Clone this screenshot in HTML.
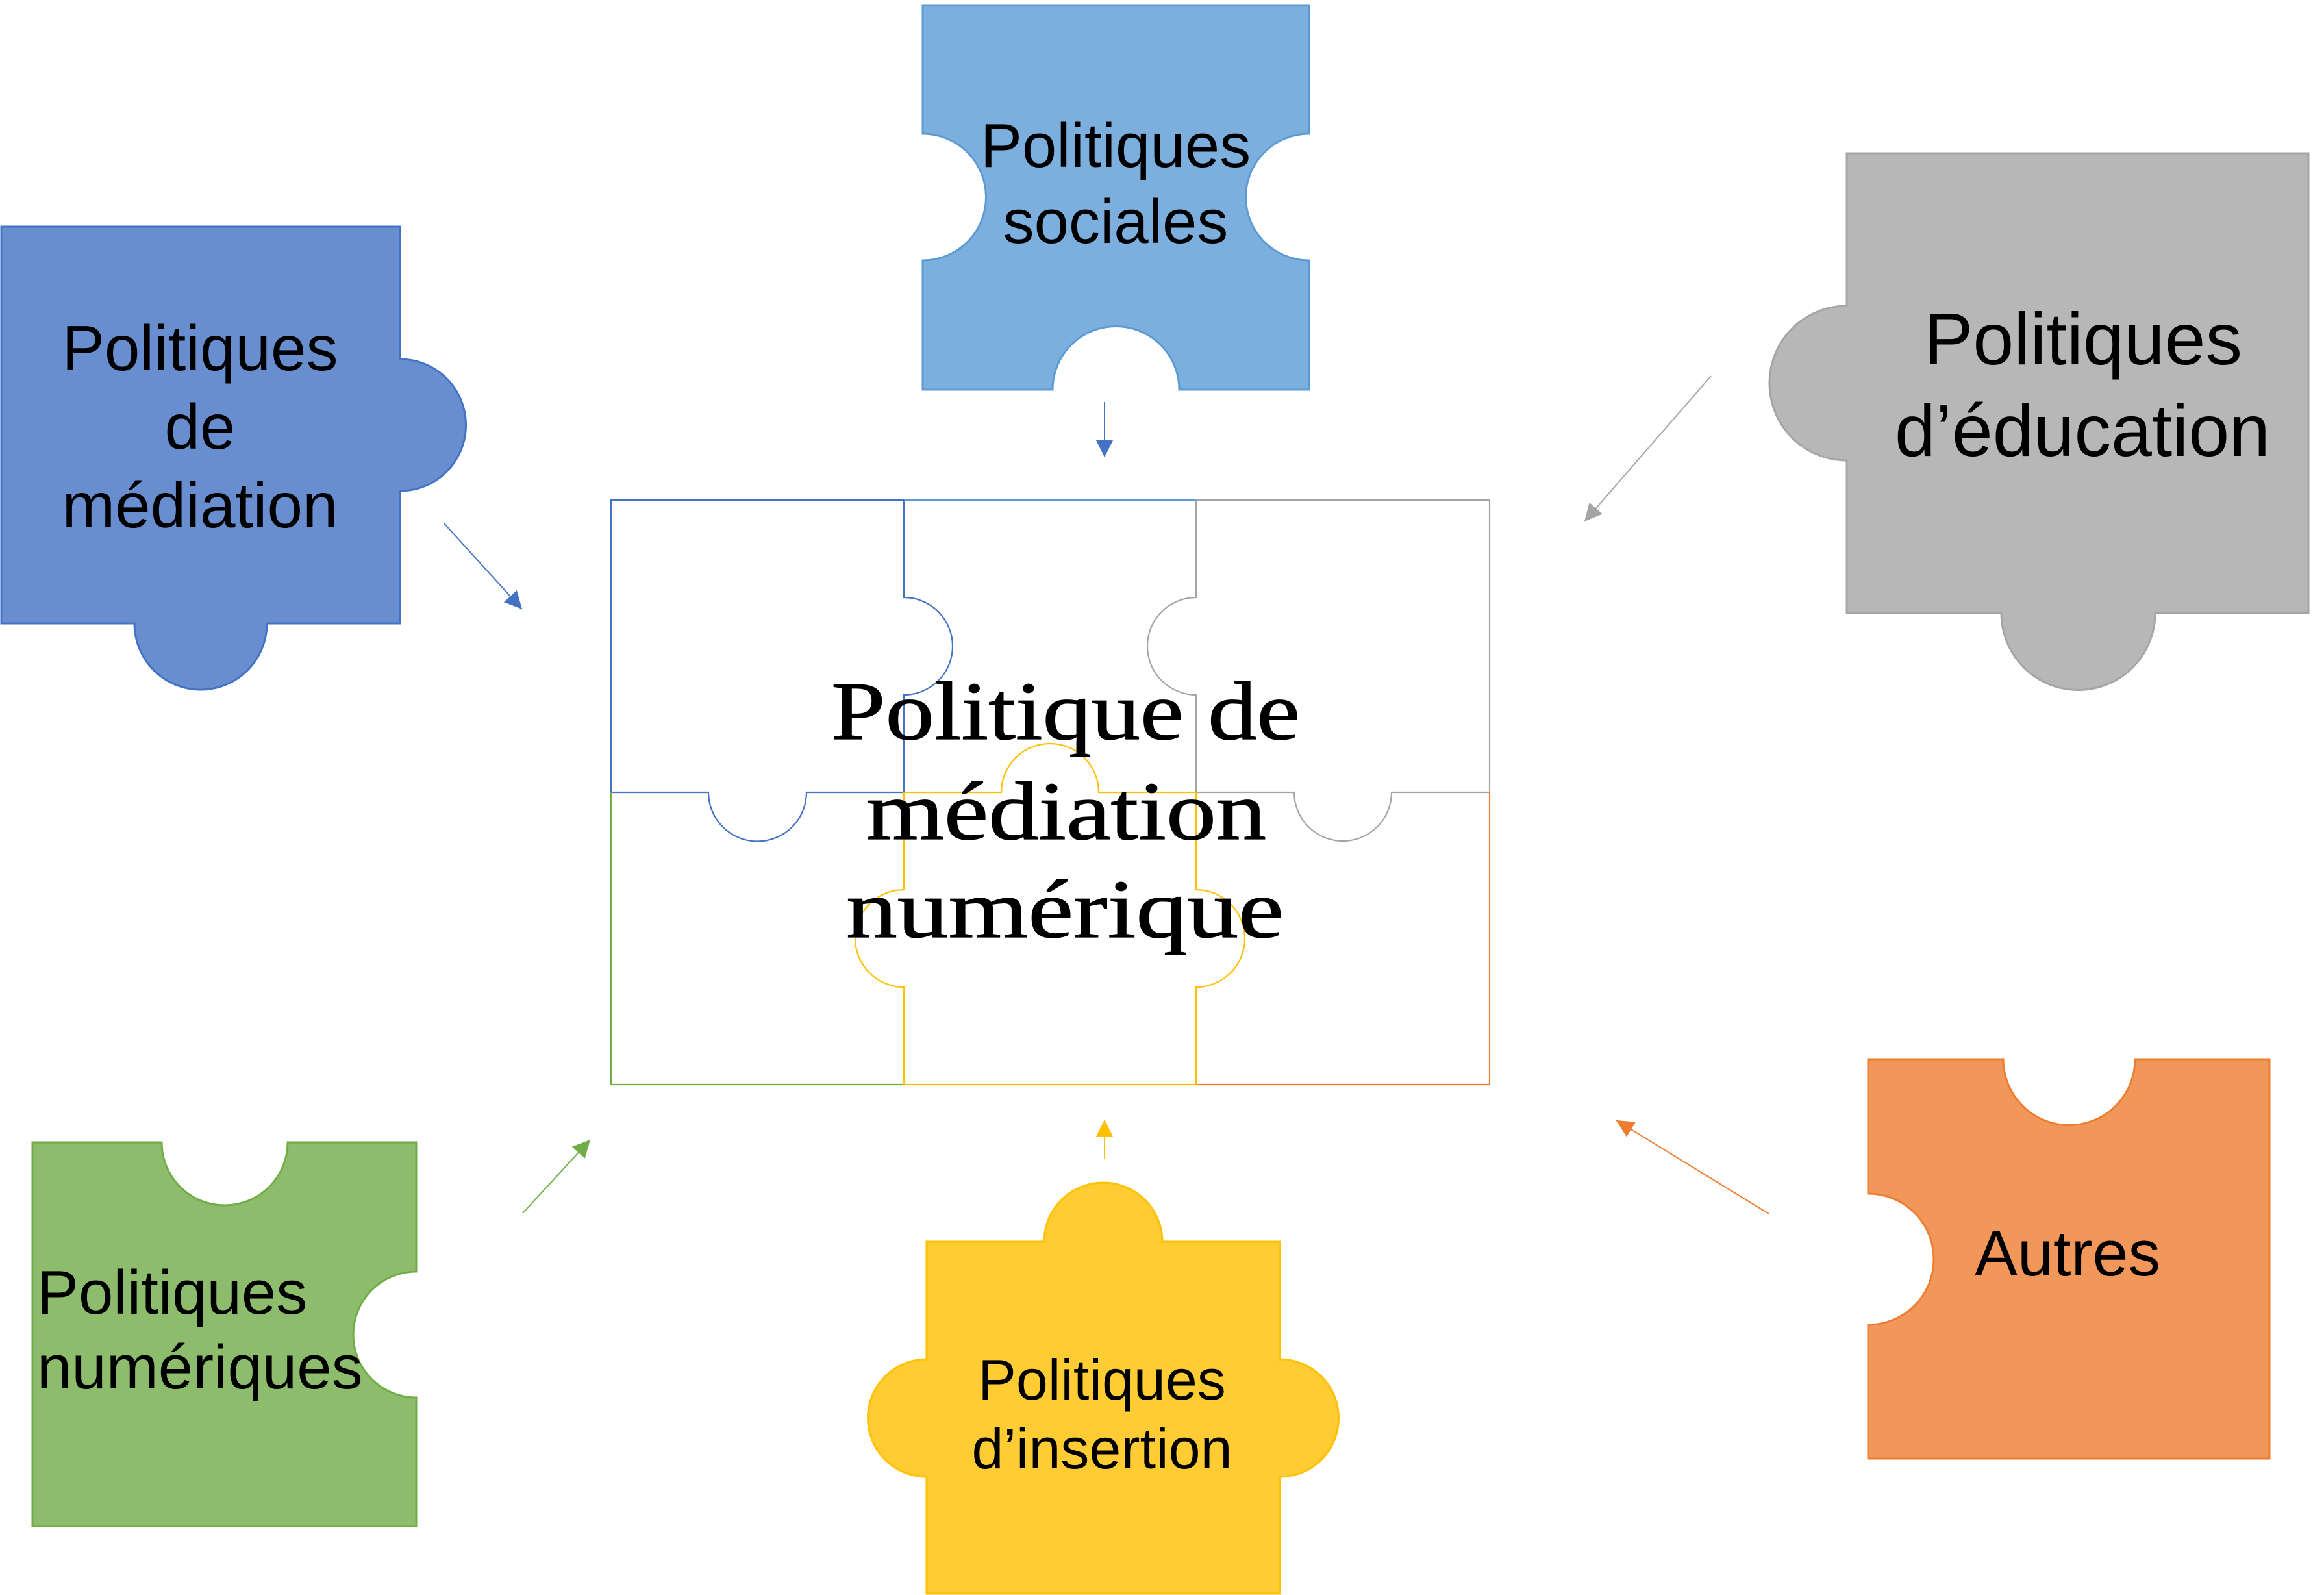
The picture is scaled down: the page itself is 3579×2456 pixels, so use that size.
<!DOCTYPE html>
<html>
<head>
<meta charset="utf-8">
<style>
  html, body { margin: 0; padding: 0; background: #ffffff; }
  svg { display: block; }
  .sans { font-family: "Liberation Sans", Arial, sans-serif; fill: #000; }
  .serif { font-family: "Liberation Serif", "Times New Roman", serif; fill: #000; }
</style>
</head>
<body>
<svg xmlns="http://www.w3.org/2000/svg" width="3579" height="2456" viewBox="0 0 3579 2456">
  <defs>
    <marker id="mBlue" markerUnits="userSpaceOnUse" markerWidth="30" markerHeight="30" refX="27" refY="13.5" orient="auto">
      <path d="M0,0 L27,13.5 L0,27 Z" fill="#4472C4"/>
    </marker>
    <marker id="mGray" markerUnits="userSpaceOnUse" markerWidth="30" markerHeight="30" refX="27" refY="13.5" orient="auto">
      <path d="M0,0 L27,13.5 L0,27 Z" fill="#A5A5A5"/>
    </marker>
    <marker id="mGreen" markerUnits="userSpaceOnUse" markerWidth="30" markerHeight="30" refX="27" refY="13.5" orient="auto">
      <path d="M0,0 L27,13.5 L0,27 Z" fill="#70AD47"/>
    </marker>
    <marker id="mYellow" markerUnits="userSpaceOnUse" markerWidth="30" markerHeight="30" refX="27" refY="13.5" orient="auto">
      <path d="M0,0 L27,13.5 L0,27 Z" fill="#FFC000"/>
    </marker>
    <marker id="mOrange" markerUnits="userSpaceOnUse" markerWidth="30" markerHeight="30" refX="27" refY="13.5" orient="auto">
      <path d="M0,0 L27,13.5 L0,27 Z" fill="#ED7D31"/>
    </marker>
  </defs>

  <rect x="0" y="0" width="3579" height="2456" fill="#ffffff"/>

  <!-- Outer puzzle pieces -->
  <!-- Politiques de médiation -->
  <path d="M2,349 H616 V553 A101.5,101.5 0 0 1 616,756 V960 H411 A102,102 0 0 1 207,960 H2 Z"
        fill="#698ED0" stroke="#4472C4" stroke-width="3"/>
  <!-- Politiques sociales -->
  <path d="M1421,8 H2016 V206 A97.5,97.5 0 0 0 2016,401 V600 H1816 A97.5,97.5 0 0 0 1621,600 H1421 V401 A97.5,97.5 0 0 0 1421,206 Z"
        fill="#7CAFDD" stroke="#5B9BD5" stroke-width="3"/>
  <!-- Politiques d'éducation -->
  <path d="M2844,236 H3555 V944 H3319 A118.5,118.5 0 0 1 3082,944 H2844 V709 A119,119 0 0 1 2844,471 Z"
        fill="#B7B7B7" stroke="#A5A5A5" stroke-width="3"/>
  <!-- Politiques numériques -->
  <path d="M50,1759 H249 A97,97 0 0 0 443,1759 H641 V1958 A97,97 0 0 0 641,2152 V2350 H50 Z"
        fill="#8DBD6C" stroke="#70AD47" stroke-width="3"/>
  <!-- Politiques d'insertion -->
  <path d="M1427,1912 H1608 A91,91 0 0 1 1790,1912 H1971 V2093 A90.5,90.5 0 0 1 1971,2274 V2454 H1427 V2274 A90.5,90.5 0 0 1 1427,2093 Z"
        fill="#FFCD33" stroke="#FFC000" stroke-width="3"/>
  <!-- Autres -->
  <path d="M2877,1631 H3085 A101.5,101.5 0 0 0 3288,1631 H3495 V2246 H2877 V2040 A101,101 0 0 0 2877,1838 Z"
        fill="#F1975A" stroke="#ED7D31" stroke-width="3"/>

  <!-- Central puzzle grid -->
  <g fill="none" stroke-width="2.2">
    <!-- top-left (blue) -->
    <path d="M941,1220 V770 H1392 V920 A75,75 0 0 1 1392,1070 V1220 H1242 A75.5,75.5 0 0 1 1091,1220 H941" stroke="#4472C4"/>
    <!-- top-middle (light blue) -->
    <path d="M1392,770 H1842" stroke="#5B9BD5"/>
    <!-- top-right (gray) -->
    <path d="M1842,770 H2294 V1220 H2143 A75,75 0 0 1 1993,1220 H1843" stroke="#A5A5A5"/>
    <path d="M1842,770 V920 A75,75 0 0 0 1842,1070 V1220" stroke="#A5A5A5"/>
    <!-- bottom-left (green) -->
    <path d="M941,1220 V1670 H1392" stroke="#70AD47"/>
    <!-- bottom-right (orange) -->
    <path d="M1842,1670 H2294 V1220" stroke="#ED7D31"/>
    <!-- bottom-middle (yellow) -->
    <path d="M1392,1220 H1542 A75,75 0 0 1 1692,1220 H1842 V1370 A75,75 0 0 1 1842,1520 V1670 H1392 V1520 A75,75 0 0 1 1392,1370 Z" stroke="#FFC000"/>
  </g>

  <!-- Arrows -->
  <g stroke-width="2">
    <line x1="683" y1="805" x2="804" y2="938" stroke="#4472C4" marker-end="url(#mBlue)"/>
    <line x1="1701" y1="619" x2="1701" y2="704" stroke="#4472C4" marker-end="url(#mBlue)"/>
    <line x1="2635" y1="579" x2="2440" y2="803" stroke="#A5A5A5" marker-end="url(#mGray)"/>
    <line x1="805" y1="1868" x2="909" y2="1755" stroke="#70AD47" marker-end="url(#mGreen)"/>
    <line x1="1701" y1="1785" x2="1701" y2="1724" stroke="#FFC000" marker-end="url(#mYellow)"/>
    <line x1="2724" y1="1869" x2="2489" y2="1725" stroke="#ED7D31" marker-end="url(#mOrange)"/>
  </g>

  <!-- Central title -->
  <g class="serif" font-size="128" text-anchor="middle" stroke="#000" stroke-width="1.2">
    <text x="1641" y="1138" textLength="722" lengthAdjust="spacingAndGlyphs">Politique de</text>
    <text x="1642" y="1292" textLength="616" lengthAdjust="spacingAndGlyphs">médiation</text>
    <text x="1640" y="1443" textLength="674" lengthAdjust="spacingAndGlyphs">numérique</text>
  </g>

  <!-- Piece labels -->
  <g class="sans" text-anchor="middle">
    <text x="308" y="570" font-size="98">Politiques</text>
    <text x="308" y="691" font-size="98">de</text>
    <text x="308" y="812" font-size="98">médiation</text>

    <text x="1718" y="257" font-size="96">Politiques</text>
    <text x="1718" y="374" font-size="96">sociales</text>

    <text x="3208" y="561" font-size="113">Politiques</text>
    <text x="3207" y="702" font-size="113">d’éducation</text>

    <text x="1697" y="2155" font-size="88">Politiques</text>
    <text x="1697" y="2261" font-size="88">d’insertion</text>

    <text x="3184" y="1964" font-size="99">Autres</text>
  </g>
  <g class="sans">
    <text x="57" y="2023" font-size="96">Politiques</text>
    <text x="57" y="2138" font-size="96">numériques</text>
  </g>
</svg>
</body>
</html>
